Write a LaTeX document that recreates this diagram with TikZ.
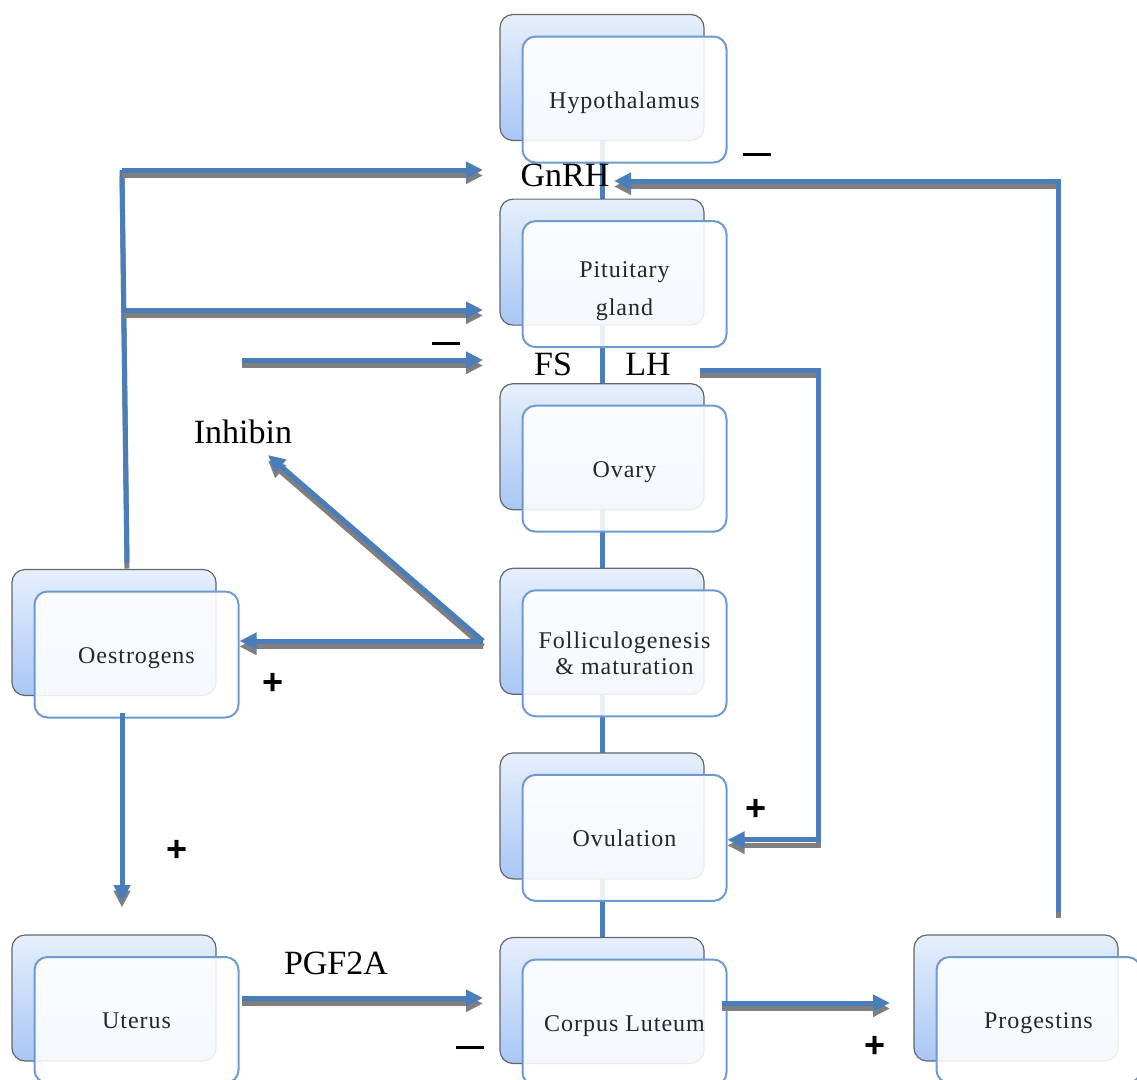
\documentclass[tikz,border=0pt]{standalone}
\usepackage{fontspec}
\setmainfont{Liberation Serif}
\newfontfamily\boxfont[LetterSpace=4]{Liberation Serif}
\newfontfamily\plusfont{Liberation Sans}
\usetikzlibrary{arrows.meta,positioning,backgrounds}
\definecolor{lineblue}{HTML}{4A7EBB}
\definecolor{shadgray}{HTML}{7F7F7F}
\definecolor{boxtop}{HTML}{E6EFFC}
\definecolor{boxbot}{HTML}{A9C7F6}
\definecolor{boxedge}{HTML}{6C9BD2}

\begin{document}
\begin{tikzpicture}[x=1pt,y=-1pt,node distance=184.6pt,on grid,
   backbox/.style={rectangle,rounded corners=13pt,minimum width=204pt,minimum height=126pt,
     draw=black!60,line width=1.2pt,top color=boxtop,bottom color=boxbot,inner sep=0pt},
   frontbox/.style={rectangle,rounded corners=13pt,minimum width=204pt,minimum height=126pt,
     draw=boxedge,line width=2pt,fill=white,fill opacity=.88,text opacity=1,align=center,
     text=black!85,font=\boxfont\fontsize{24}{26}\selectfont},
   oneline/.style={text height=17pt,text depth=0pt},
   lbl/.style={font=\fontsize{34}{36}\selectfont,inner sep=0pt},
   conn/.style={draw=lineblue,line width=5pt,
     preaction={draw=shadgray,line width=5pt,transform canvas={yshift=-5.5pt}}},
   arr/.style={conn,-{Triangle[length=17pt,width=16pt]}},
   minus/.style={fill=black,minimum width=28pt,minimum height=3pt,inner sep=0pt},
   plus/.style={font=\plusfont\bfseries\fontsize{36}{36}\selectfont,inner sep=0pt}]
   \useasboundingbox (0,0) rectangle (1137,1079);
   \clip (0,0) rectangle (1137,1079);

   % central column
   \node[backbox] (hypb) at (602,77.5) {};
   \node[frontbox,oneline] (hyp) [below right=22pt and 22.5pt of hypb] {Hypothalamus};
   \node[backbox] (pitb) [below=of hypb] {};
   \node[frontbox] (pit) [below right=22pt and 22.5pt of pitb] {\rule{0pt}{29pt}Pituitary\\[12pt]gland};
   \node[backbox] (ovab) [below=of pitb] {};
   \node[frontbox,oneline] (ova) [below right=22pt and 22.5pt of ovab] {Ovary};
   \node[backbox] (folb) [below=of ovab] {};
   \node[frontbox] (fol) [below right=22pt and 22.5pt of folb] {Folliculogenesis\\\& maturation};
   \node[backbox] (ovub) [below=of folb] {};
   \node[frontbox,oneline] (ovu) [below right=22pt and 22.5pt of ovub] {Ovulation};
   \node[backbox] (clb) [below=of ovub] {};
   \node[frontbox,oneline] (cl) [below right=22pt and 22.5pt of clb] {Corpus Luteum};

   % side boxes
   \node[backbox] (oestb) at (114,632.5) {};
   \node[frontbox,oneline] (oest) [below right=22pt and 22.5pt of oestb] {Oestrogens};
   \node[backbox] (uteb) at (114,998) {};
   \node[frontbox,oneline] (ute) [below right=22pt and 22.5pt of uteb] {Uterus};
   \node[backbox] (progb) at (1016,998) {};
   \node[frontbox,oneline] (prog) [below right=22pt and 22.5pt of progb] {Progestins};

   \begin{scope}[on background layer]
     \draw[lineblue,line width=5pt] (hypb) -- (clb);
   \end{scope}

   % labels
   \node[lbl] (gnrh) at (565,175) {GnRH};
   \node[lbl] (fs) at (553,364) {FS};
   \node[lbl] (lh) at (648,364) {LH};
   \node[lbl] (inh) at (243,432) {Inhibin};
   \node[lbl] (pgf) at (336,963) {PGF2A};

   \node[minus] (m1) at (757,154) {};
   \node[minus] (m2) at (446,343) {};
   \node[minus] (m3) at (470,1047) {};
   \node[plus] (p1) at (273,684) {+};
   \node[plus] (p2) at (177,851) {+};
   \node[plus] (p3) at (756,810) {+};
   \node[plus] (p4) at (875,1047) {+};

   % connector ends
   \coordinate (lt) at (122,170);
   \coordinate (lm) at (124,310);
   \coordinate (lb) at (127,563);
   \coordinate (gt) at (483,170);
   \coordinate (pt) at (483,310);
   \coordinate (fss) at (242,360);
   \coordinate (fst) at (483,360);
   \coordinate (prt) at (1058,912);
   \coordinate (gnin) at (614,181);
   \coordinate (lhs) at (700,370);
   \coordinate (fo) at (483,641);
   \coordinate (inht) at (268,455);
   \coordinate (od) at (122,713);
   \coordinate (ud) at (122,902);
   \coordinate (us) at (242,998);
   \coordinate (ct) at (483,998);
   \coordinate (cs) at (722,1003);
   \coordinate (ps) at (890,1003);

   \draw[conn] (lb) -- (lt);
   \draw[arr] (lt) -- (gt);
   \draw[arr] (lm) -- (pt);
   \draw[arr] (fss) -- (fst);
   \draw[arr] (prt) -- (prt |- gnin) -- (gnin);
   \draw[arr] (lhs) -- ++(118,0) |- ([yshift=-2pt]ovu.east);
   \draw[arr] (fo) -- (inht);
   \draw[arr] (fo) -- (fo -| oest.east);
   \draw[arr] (od) -- (ud);
   \draw[arr] (us) -- (ct);
   \draw[arr] (cs) -- (ps);
\end{tikzpicture}
\end{document}
